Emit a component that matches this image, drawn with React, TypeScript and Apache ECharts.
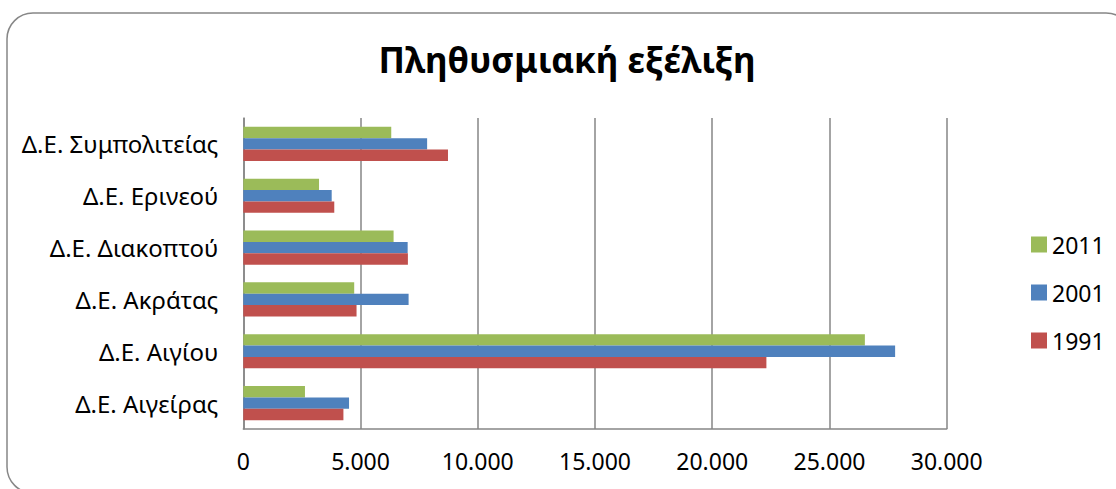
import React, { useEffect, useRef } from "react";
import * as echarts from "echarts";

// Municipal units, listed bottom to top as they appear on the category axis
const categories = [
  "Δ.Ε. Αιγείρας",
  "Δ.Ε. Αιγίου",
  "Δ.Ε. Ακράτας",
  "Δ.Ε. Διακοπτού",
  "Δ.Ε. Ερινεού",
  "Δ.Ε. Συμπολιτείας",
];

// Census population per year
const pop1991 = [4270, 22310, 4830, 7020, 3880, 8730];
const pop2001 = [4510, 27800, 7050, 7010, 3770, 7840];
const pop2011 = [2630, 26510, 4730, 6410, 3230, 6310];

const years = ["2011", "2001", "1991"];
const titleText = "Πληθυσμιακή εξέλιξη";

const FONT = "'Noto Sans', 'DejaVu Sans', sans-serif";
const GRID_GRAY = "#868686";

const formatThousands = (v: number) =>
  String(v).replace(/\B(?=(\d{3})+(?!\d))/g, ".");

export default function App() {
  const ref = useRef<HTMLDivElement>(null);

  useEffect(() => {
    if (!ref.current) return;
    const chart = echarts.init(ref.current, null, { renderer: "svg" });

    // Within each category the first series sits on top
    const seriesData = [pop2011, pop2001, pop1991];
    const colors = ["#9BBB59", "#4F81BD", "#C0504D"];

    chart.setOption({
      animation: false,
      backgroundColor: "#ffffff",
      textStyle: { fontFamily: FONT },
      graphic: [
        {
          type: "rect",
          shape: { x: 7, y: 13, width: 1125, height: 480, r: 26 },
          style: { fill: "none", stroke: "#878787", lineWidth: 1.5 },
          silent: true,
        },
        {
          type: "text",
          x: 567,
          y: 59,
          style: {
            text: titleText,
            fontFamily: FONT,
            fontSize: 35,
            fontWeight: "bold",
            fill: "#000000",
            align: "center",
            verticalAlign: "middle",
          },
          silent: true,
        },
      ],
      legend: {
        orient: "vertical",
        left: 1026,
        top: 228,
        data: years,
        itemWidth: 16,
        itemHeight: 16,
        itemGap: 25,
        icon: "rect",
        textStyle: {
          fontFamily: FONT,
          fontSize: 23,
          color: "#000000",
          lineHeight: 23,
          padding: [0, 0, 0, 0],
        },
      },
      grid: {
        left: 243.3,
        right: 169.3,
        top: 118,
        bottom: 60,
        containLabel: false,
      },
      xAxis: {
        type: "value",
        min: 0,
        max: 30000,
        interval: 5000,
        axisLine: { show: true, lineStyle: { color: GRID_GRAY, width: 1.5 } },
        axisTick: { show: false },
        splitLine: { show: true, lineStyle: { color: GRID_GRAY, width: 1.5 } },
        axisLabel: {
          fontFamily: FONT,
          fontSize: 23,
          color: "#000000",
          margin: 20,
          formatter: (v: number) => formatThousands(v),
        },
      },
      yAxis: {
        type: "category",
        data: categories,
        axisLine: { show: true, lineStyle: { color: GRID_GRAY, width: 1.5 } },
        axisTick: { show: false },
        axisLabel: {
          fontFamily: FONT,
          fontSize: 24,
          color: "#000000",
          margin: 25,
        },
      },
      series: years.map((y, i) => ({
        name: y,
        type: "bar",
        data: seriesData[i],
        barGap: "0%",
        barCategoryGap: "34%",
        itemStyle: { color: colors[i] },
      })),
    });

    return () => chart.dispose();
  }, []);

  return (
    <div
      ref={ref}
      style={{ position: "fixed", left: 0, top: 0, width: 1116, height: 489 }}
    />
  );
}
